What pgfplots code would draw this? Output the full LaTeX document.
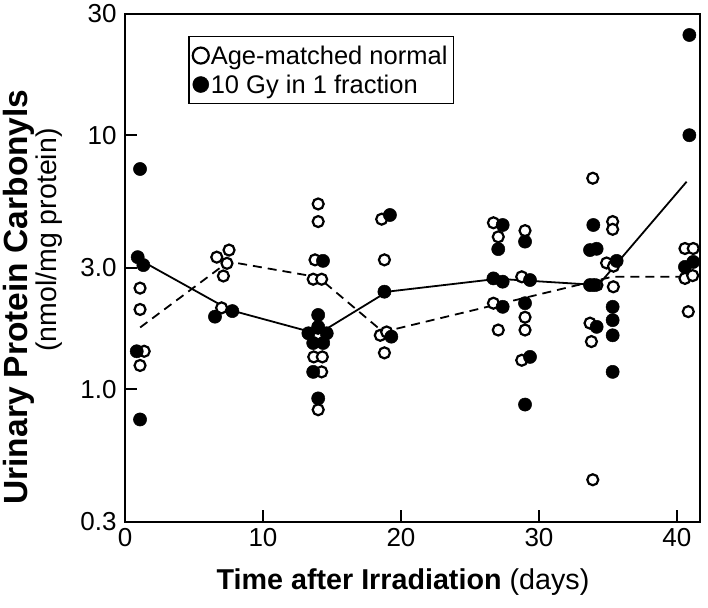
\documentclass[border=0pt]{standalone}
\usepackage{pgfplots}
\pgfplotsset{compat=1.18}
\usepackage{fontspec}
\setmainfont{Liberation Sans}

\begin{document}
\begin{tikzpicture}
\path[use as bounding box] (-125bp,-86bp) rectangle (583bp,522bp);
\begin{axis}[
  at={(0,0)}, anchor=south west,
  scale only axis, width=575bp, height=508bp,
  xmin=0, xmax=41.67,
  ymode=log, ymin=0.3, ymax=30,
  axis line style={line width=2.4bp},
  tick style={line width=2bp, black},
  tick align=inside, major tick length=12bp,
  xtick pos=left, ytick pos=left,
  xtick={0,10,20,30,40}, xticklabels={0,10,20,30,40},
  ytick={0.3,1,3,10,30}, yticklabels={0.3,1.0,3.0,10,30},
  minor y tick num=0,
  ticklabel style={font=\fontsize{26bp}{26bp}\selectfont},
  yticklabel style={xshift=-5bp},
  xticklabel style={yshift=-3bp},
  legend style={at={(0.1096,0.957)}, anchor=north west, draw=black,
    line width=1.5bp, font=\fontsize{25.5bp}{27bp}\selectfont,
    inner xsep=4bp, inner ysep=7bp, row sep=5bp,
    nodes={inner xsep=2bp},
    /tikz/every even column/.append style={column sep=0bp}},
  legend cell align=left,
  legend image code/.code={\draw[mark repeat=2,mark phase=2,#1,mark size=8bp]
    plot coordinates {(0bp,0bp)(9bp,0bp)(18bp,0bp)};},
]
% mean lines
\addplot[black, line width=1.8bp, no marks, forget plot] coordinates {
  (1.2,3.2)(7.6,2.05)(14.0,1.65)(19.0,2.42)(27.0,2.72)(34.3,2.57)(40.7,6.56)};
\addplot[black, line width=1.8bp, no marks, dash pattern=on 9bp off 6bp, forget plot] coordinates {
  (1.1,1.75)(7.5,3.18)(14.0,2.76)(18.7,1.68)(35.3,2.77)(40.7,2.77)};

% age-matched normal
\addplot[only marks, mark=*, mark size=5.5bp, line width=2.2bp, draw=black, fill=white] coordinates {
  (1.09,2.50)(1.09,2.06)(1.39,1.41)(1.09,1.24)
  (6.65,3.31)(7.54,3.53)(7.39,3.13)(7.13,2.79)(7.00,2.09)
  (14.0,5.36)(14.0,4.57)(13.77,3.23)(13.64,2.71)(14.25,2.71)(13.68,1.34)(14.30,1.34)(14.25,1.17)(14.0,0.83)
  (18.6,4.67)(18.8,3.23)(18.5,1.63)(18.96,1.68)(18.8,1.39)
  (26.7,4.52)(27.05,3.98)(26.7,2.18)(27.05,1.71)
  (28.99,4.21)(28.75,2.77)(28.99,1.92)(28.99,1.71)(28.75,1.30)
  (33.9,6.77)(34.2,2.57)(33.7,1.82)(33.8,1.54)(33.9,0.44)
  (34.9,3.14)(35.4,3.05)(35.39,2.53)(35.34,4.57)(35.34,4.26)
  (40.58,3.58)(41.18,3.58)(40.58,2.73)(41.14,2.80)(40.82,2.02)};
\addlegendentry{Age-matched normal}

% 10 Gy in 1 fraction
\addplot[only marks, mark=*, mark size=6.6bp, line width=0.5bp, black] coordinates {
  (0.92,3.31)(1.33,3.08)(0.85,1.41)(1.09,0.76)(1.09,7.36)
  (6.52,1.93)(7.78,2.03)
  (14.35,3.20)(14.0,1.96)(13.29,1.66)(14.62,1.66)(14.0,1.76)(13.64,1.52)(14.36,1.52)(13.64,1.17)(14.0,0.92)
  (19.2,4.85)(18.8,2.42)(19.3,1.61)
  (27.37,4.43)(27.05,3.56)(26.7,2.73)(27.37,2.65)(27.37,2.11)
  (28.99,3.81)(29.35,2.69)(28.99,2.18)(29.35,1.34)(28.99,0.87)
  (33.94,4.43)(33.7,3.53)(34.18,3.57)(33.7,2.57)(34.0,2.57)(34.18,1.76)
  (35.63,3.20)(35.34,2.11)(35.34,1.87)(35.34,1.63)(35.34,1.17)
  (41.18,3.17)(40.58,3.03)(40.9,24.8)(40.9,10.0)};
\addlegendentry{10 Gy in 1 fraction}
\end{axis}

\node[rotate=90, font=\bfseries\fontsize{33.5bp}{35bp}\selectfont] at (-106bp,225bp) {Urinary Protein Carbonyls};
\node[rotate=90, font=\fontsize{28.5bp}{30bp}\selectfont] at (-76bp,282bp) {(nmol/mg protein)};
\node[font=\fontsize{28.7bp}{30bp}\selectfont] at (278bp,-60bp) {\textbf{Time after Irradiation} (days)};
\end{tikzpicture}
\end{document}
